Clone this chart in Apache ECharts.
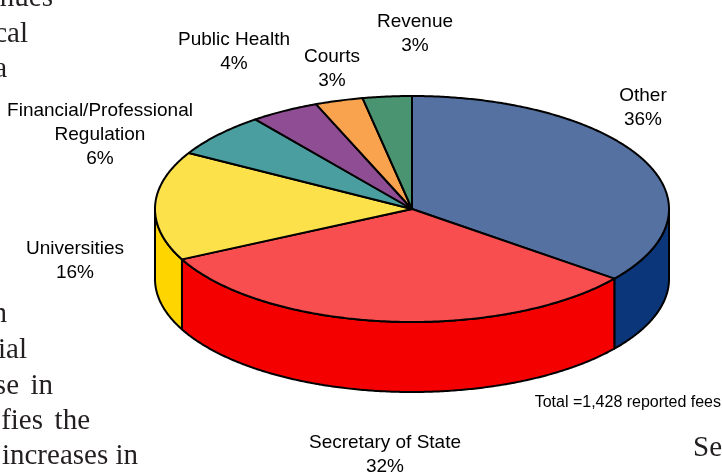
<!DOCTYPE html>
<html><head><meta charset="utf-8">
<script src="https://cdn.jsdelivr.net/npm/echarts@6/dist/echarts.min.js"></script>
<style>html,body{margin:0;padding:0;background:#fff}#c{width:722px;height:473px}</style>
</head><body><div id="c"></div>
<script>
// ---- data ----
const categories = ['Other', 'Secretary of State', 'Universities', 'Financial/Professional\nRegulation', 'Public Health', 'Courts', 'Revenue'];
const feeCounts = [508, 458, 223, 90, 62, 43, 44];
const totalNote = 'Total =1,428 reported fees';

// ---- styles / layout ----
const topColors  = ['#5471A2', '#F84E4F', '#FDE14B', '#4B9EA0', '#8F4D94', '#F9A34F', '#4A9472'];
const sideColors = ['#0B3679', '#F50000', '#FFD500', '#2F7F82', '#6E2F75', '#E07F20', '#2E7553'];
const labelAnchors = [[643,108],[385,455],[75,261],[100,135],[234,52],[332,69],[415,34]];
const CX = 412, CY = 209, RX = 257, RY = 113, DEPTH = 70;

const total = feeCounts.reduce((a, b) => a + b, 0);
const cum = []; let run = 0; feeCounts.forEach(v => { cum.push(run); run += v; });

function pt(deg, dy) { const r = deg * Math.PI / 180; return [CX + RX * Math.sin(r), CY - RY * Math.cos(r) + (dy || 0)]; }
function arc(a, b, dy) { const pts = []; const n = Math.max(2, Math.ceil((b - a) / 0.5)); for (let i = 0; i <= n; i++) pts.push(pt(a + (b - a) * i / n, dy)); return pts; }

function renderItem(params, api) {
  const i = params.dataIndex, v = api.value(0);
  const a = cum[i] / total * 360, b = (cum[i] + v) / total * 360;
  const children = [];
  const sa = Math.max(a, 90), sb = Math.min(b, 270);
  if (sb > sa) {
    const top = arc(sa, sb, 0), bot = arc(sa, sb, DEPTH).reverse();
    children.push({ type: 'polygon', shape: { points: top.concat(bot) }, style: { fill: sideColors[i], stroke: '#000', lineWidth: 2, lineJoin: 'round' } });
  }
  children.push({ type: 'polygon', shape: { points: [[CX, CY]].concat(arc(a, b, 0)) }, style: { fill: topColors[i], stroke: '#000', lineWidth: 2, lineJoin: 'round' } });
  const pct = Math.round(v / total * 100);
  children.push({ type: 'text', x: labelAnchors[i][0], y: labelAnchors[i][1], style: {
    text: categories[i] + '\n' + pct + '%', fill: '#000', fontSize: 19, fontFamily: 'Liberation Sans, Arial, sans-serif',
    align: 'center', verticalAlign: 'middle', lineHeight: 24 } });
  return { type: 'group', children };
}

const serif = (text, x, baseline, align) => ({ type: 'text', x: x, y: baseline - 9, silent: true, style: {
  text: text, fill: '#231F20', fontSize: 29, fontFamily: 'Liberation Serif, Times New Roman, serif', align: align || 'right', verticalAlign: 'middle' } });

const chart = echarts.init(document.getElementById('c'), null, { renderer: 'canvas' });
chart.setOption({
  animation: false,
  backgroundColor: '#fff',
  graphic: [
    serif('nues', 53, 7.5), serif('cal', 28, 43), serif('a', 7, 78),
    serif('n', 7, 323), serif('ial', 27, 359), serif('se', 19, 395), serif('in', 53, 395),
    serif('fies', 43, 430), serif('the', 90, 430), serif('increases in', 138, 465),
    serif('Se', 693, 457, 'left'),
    { type: 'text', x: 721, y: 403, silent: true, style: { text: totalNote, fill: '#000', fontSize: 16,
      fontFamily: 'Liberation Sans, Arial, sans-serif', align: 'right', verticalAlign: 'middle' } }
  ],
  series: [{
    type: 'custom', coordinateSystem: 'none', silent: true,
    renderItem: renderItem,
    data: feeCounts.map((v, i) => ({ name: categories[i], value: v }))
  }]
});
</script></body></html>
